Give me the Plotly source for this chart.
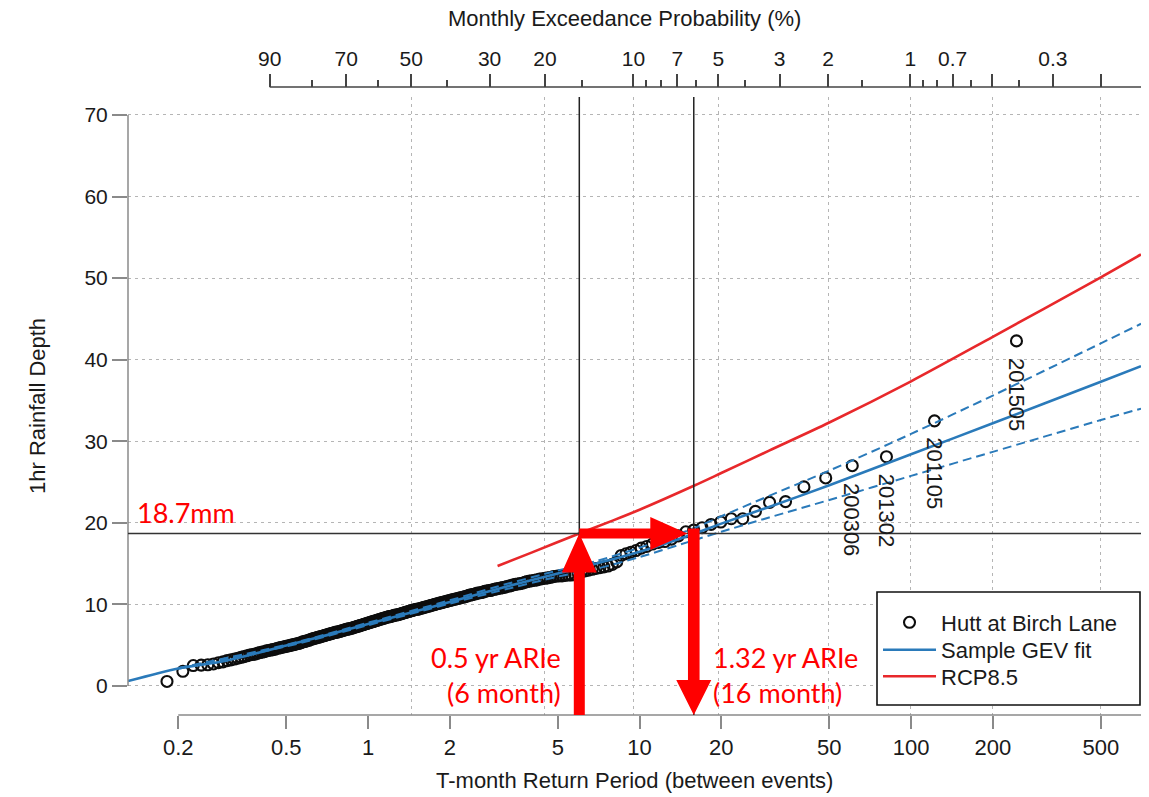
import numpy as np
import plotly.graph_objects as go

# ---------------- data ----------------
station_name = "Hutt at Birch Lane"
# ranked 1-hr monthly maxima (mm), largest first
depth_ranked = [
    42.3, 32.5, 28.1, 27.0, 25.5, 24.4, 22.6, 22.5, 21.4, 20.5,
    20.5, 20.1, 19.8, 19.4, 19.1, 18.9, 18.4, 18.0, 17.7, 17.6,
    17.4, 17.1, 16.9, 16.6, 16.4, 16.2, 16.0, 15.2, 14.9, 14.7,
    14.6, 14.5, 14.4, 14.3, 14.2, 14.1, 14.0, 13.9, 13.7,
    13.6, 13.6, 13.55, 13.5, 13.5,
    13.45, 13.4, 13.3, 13.25, 13.2,
    13.15, 13.1, 13.0, 12.95, 12.9,
    12.85, 12.8, 12.7, 12.6, 12.55,
    12.5, 12.45, 12.4, 12.3, 12.25,
    12.2, 12.1, 12.05, 12.0, 11.95,
    11.9, 11.85, 11.8, 11.7, 11.7,
    11.65, 11.6, 11.5, 11.45, 11.4,
    11.4, 11.3, 11.25, 11.2, 11.15,
    11.1, 11.0, 10.95, 10.9, 10.85,
    10.8, 10.75, 10.7, 10.65, 10.6,
    10.55, 10.5, 10.45, 10.4, 10.35,
    10.3, 10.25, 10.2, 10.15, 10.1,
    10.05, 10.0, 9.95, 9.9, 9.85,
    9.8, 9.75, 9.7, 9.65, 9.6,
    9.55, 9.5, 9.45, 9.4, 9.4,
    9.35, 9.3, 9.25, 9.2, 9.15,
    9.1, 9.05, 9.0, 8.95, 8.9,
    8.85, 8.8, 8.75, 8.7, 8.7,
    8.65, 8.6, 8.55, 8.5, 8.5,
    8.45, 8.4, 8.35, 8.3, 8.25,
    8.2, 8.15, 8.1, 8.05, 8.0,
    7.95, 7.9, 7.85, 7.8, 7.75,
    7.7, 7.65, 7.6, 7.55, 7.5,
    7.45, 7.4, 7.35, 7.3, 7.25,
    7.2, 7.15, 7.1, 7.05, 7.0,
    7.0, 6.95, 6.9, 6.85, 6.8,
    6.75, 6.7, 6.65, 6.6, 6.6,
    6.55, 6.5, 6.45, 6.4, 6.35,
    6.3, 6.25, 6.2, 6.15, 6.1,
    6.05, 6.0, 5.95, 5.9, 5.85,
    5.8, 5.75, 5.7, 5.6, 5.55,
    5.5, 5.45, 5.4, 5.3, 5.25,
    5.2, 5.15, 5.1, 5.05, 5.0,
    4.95, 4.9, 4.85, 4.8, 4.75,
    4.7, 4.65, 4.6, 4.5, 4.45,
    4.4, 4.35, 4.3, 4.2, 4.15,
    4.1, 4.0, 3.9, 3.85, 3.8,
    3.7, 3.6, 3.5, 3.4, 3.3,
    3.2, 3.1, 2.95, 2.85, 2.7,
    2.6, 2.55, 2.5, 1.8, 0.55,
]
event_labels = ["201505", "201105", "201302", "200306"]  # labels of the 4 largest

gev_T = [0.1306, 0.2, 0.3, 0.5, 0.7, 1, 1.5, 2, 3, 5, 7, 10, 16, 20, 30, 50, 100, 200, 500, 703]
gev_depth = [0.6, 2.15, 3.1, 4.95, 6.2, 7.6, 9.15, 10.3, 11.9, 13.8, 15.05, 16.45, 18.7, 19.9,
             21.95, 24.6, 28.4, 32.2, 37.3, 39.2]
ci_T = [0.2, 0.5, 1, 2, 3, 5, 7, 10, 16, 20, 30, 50, 100, 200, 500, 703]
ci_upper = [2.2, 5.05, 7.75, 10.5, 12.2, 14.15, 15.35, 16.95, 19.4, 20.8, 23.3, 26.4, 30.9, 35.6, 42.0, 44.4]
ci_lower = [2.1, 4.85, 7.45, 10.1, 11.6, 13.4, 14.4, 15.8, 17.9, 18.9, 20.65, 22.8, 25.75, 28.7, 32.6, 34.0]
rcp_T = [3, 4, 6, 8, 10, 16, 20, 30, 50, 100, 200, 500, 703]
rcp_depth = [14.7, 16.35, 18.7, 20.3, 21.6, 24.6, 26.1, 28.85, 32.3, 37.35, 42.8, 50.1, 52.9]

threshold_mm = 18.7
ari_low_T = 6.0      # months (0.5 yr)
ari_high_T = 15.84   # months (1.32 yr)

bottom_ticks = [0.2, 0.5, 1, 2, 5, 10, 20, 50, 100, 200, 500]
y_ticks = [0, 10, 20, 30, 40, 50, 60, 70]
top_major_p = [90, 70, 50, 30, 20, 10, 7, 5, 3, 2, 1, 0.7, 0.5, 0.3, 0.2]
top_major_text = ["90", "70", "50", "30", "20", "10", "7", "5", "3", "2", "1", "0.7", "", "0.3", ""]
top_minor_p = [80, 60, 40, 15, 9, 8, 6, 4, 1.5, 0.9, 0.8, 0.6, 0.4]
grid_p = [50, 20, 10, 5, 2, 1, 0.5, 0.2]

# ---------------- transforms ----------------
def p_to_T(p_percent):
    p = np.asarray(p_percent, dtype=float) / 100.0
    return -1.0 / np.log(1.0 - p)

n_obs = len(depth_ranked)
ranks = np.arange(1, n_obs + 1)
obs_T = -1.0 / np.log(1.0 - ranks / (n_obs + 1.0))

# ---------------- geometry / style ----------------
W, H = 1149, 797
ML, MR, MT, MB = 128, 8, 87, 82
plot_w = W - ML - MR
paper_h = H - MT - MB
ydom_top = (paper_h - 10) / paper_h
plot_h = ydom_top * paper_h
xr = [np.log10(0.1306), np.log10(703.0)]
yr = [-3.56, 72.2]
ppd = plot_w / (xr[1] - xr[0])
ppu = plot_h / (yr[1] - yr[0])

BLUE = "#2a7aba"
RED = "#e8282b"
ARROW = "#ff0000"
GRID = "#b5b5b5"
AXC = "#8a8a8a"
RFONT = "Liberation Sans, Arial, sans-serif"
CFONT = "Lato, Carlito, Open Sans, sans-serif"

fig = go.Figure()

fig.add_trace(go.Scatter(
    x=obs_T, y=depth_ranked, mode="markers", name=station_name, legend="legend",
    marker=dict(symbol="circle-open", size=11, color="#0d0d0d", line=dict(width=2.1)),
    hoverinfo="skip"))
fig.add_trace(go.Scatter(
    x=gev_T, y=gev_depth, mode="lines", name="Sample GEV fit", legend="legend2",
    line=dict(color=BLUE, width=2.6, shape="spline", smoothing=0.8), hoverinfo="skip"))
fig.add_trace(go.Scatter(
    x=ci_T, y=ci_upper, mode="lines", showlegend=False,
    line=dict(color=BLUE, width=2, dash="9px,5px", shape="spline", smoothing=0.8), hoverinfo="skip"))
fig.add_trace(go.Scatter(
    x=ci_T, y=ci_lower, mode="lines", showlegend=False,
    line=dict(color=BLUE, width=2, dash="9px,5px", shape="spline", smoothing=0.8), hoverinfo="skip"))
fig.add_trace(go.Scatter(
    x=rcp_T, y=rcp_depth, mode="lines", name="RCP8.5", legend="legend3",
    line=dict(color=RED, width=2.6, shape="spline", smoothing=0.8), hoverinfo="skip"))

# helper traces so the overlaid probability axes are created
for ax in ["x2", "x3", "x4"]:
    fig.add_trace(go.Scatter(x=[1, 1], y=[None, None], xaxis=ax, yaxis="y", mode="lines",
                             showlegend=False, hoverinfo="skip"))

legend_left = (877 - ML) / plot_w + 0.001
def legend_at(row_px):
    return dict(x=legend_left, xanchor="left", y=(MT + paper_h - row_px) / paper_h, yanchor="middle",
                bgcolor="rgba(0,0,0,0)", borderwidth=0,
                font=dict(size=22, family=RFONT, color="#1a1a1a"), itemwidth=53)

log_common = dict(type="log", range=xr, showline=False, zeroline=False, fixedrange=True)
fig.update_layout(
    width=W, height=H,
    margin=dict(l=ML, r=MR, t=MT, b=MB, pad=0),
    paper_bgcolor="white", plot_bgcolor="white",
    font=dict(family=RFONT, color="#1a1a1a"),
    xaxis=dict(**log_common, tickmode="array", tickvals=bottom_ticks,
               ticktext=[f"{v:g}" for v in bottom_ticks],
               ticks="outside", ticklen=13, tickwidth=1.5, tickcolor=AXC,
               showgrid=False, tickfont=dict(size=22, family=RFONT, color="#1a1a1a"), anchor="y"),
    xaxis2=dict(**log_common, overlaying="x", side="top", anchor="free", position=1,
                tickmode="array", tickvals=p_to_T(top_major_p), ticktext=top_major_text,
                ticks="outside", ticklen=13, tickwidth=1.5, tickcolor="#444",
                showgrid=False, tickfont=dict(size=21, family=RFONT, color="#1a1a1a")),
    xaxis3=dict(**log_common, overlaying="x", side="top", anchor="free", position=1,
                tickmode="array", tickvals=p_to_T(top_minor_p), showticklabels=False,
                ticks="outside", ticklen=7, tickwidth=1.5, tickcolor="#444", showgrid=False),
    xaxis4=dict(**log_common, overlaying="x", anchor="y", tickmode="array",
                tickvals=p_to_T(grid_p), showticklabels=False, ticks="",
                showgrid=True, gridcolor=GRID, gridwidth=1.3, griddash="3px,4px"),
    yaxis=dict(range=yr, domain=[0, ydom_top], tickmode="array", tickvals=y_ticks,
               ticks="outside", ticklen=15, tickwidth=1.5, tickcolor=AXC,
               showgrid=True, gridcolor=GRID, gridwidth=1.3, griddash="3px,4px",
               zeroline=False, showline=False, fixedrange=True,
               tickfont=dict(size=21, family=RFONT, color="#1a1a1a")),
    showlegend=True,
    legend=legend_at(622.5),
    legend2=legend_at(650),
    legend3=legend_at(676.5),
)

shapes = []
# axis lines (R style)
shapes.append(dict(type="line", xref="paper", yref="y", x0=0, x1=0, y0=y_ticks[0], y1=y_ticks[-1],
                   line=dict(color=AXC, width=1.5)))
shapes.append(dict(type="line", xref="x", yref="paper", x0=bottom_ticks[0], x1=10 ** xr[1], y0=0, y1=0,
                   line=dict(color=AXC, width=1.5)))
shapes.append(dict(type="line", xref="x", yref="paper", x0=float(p_to_T(top_major_p[0])), x1=10 ** xr[1],
                   y0=1, y1=1, line=dict(color="#444", width=1.5)))
# reference lines
for t in [ari_low_T, ari_high_T]:
    shapes.append(dict(type="line", xref="x", yref="paper", x0=t, x1=t, y0=0, y1=ydom_top,
                       line=dict(color="#222", width=1.5), layer="above"))
shapes.append(dict(type="line", xref="paper", yref="y", x0=0, x1=1, y0=threshold_mm, y1=threshold_mm,
                   line=dict(color="#333", width=1.5), layer="above"))
# legend box
shapes.append(dict(type="rect", xref="paper", yref="paper",
                   x0=(877 - ML) / plot_w, x1=(1140 - ML) / plot_w,
                   y0=10 / paper_h, y1=123 / paper_h,
                   fillcolor="white", line=dict(color="#111", width=1.6), layer="above"))

# thick red arrows (pixel geometry anchored at data points)
drop = (threshold_mm - yr[0]) * ppu
span = ppd * np.log10(ari_high_T / ari_low_T)
def arrow_shape(xa, path):
    return dict(type="path", xref="x", yref="y", xsizemode="pixel", ysizemode="pixel",
                xanchor=xa, yanchor=threshold_mm, path=path,
                fillcolor=ARROW, line=dict(width=0), layer="above")
up = (f"M -5.5,{-drop:.1f} L -5.5,-39 L -17.5,-39 L 0,0 L 17.5,-39 L 5.5,-39 L 5.5,{-drop:.1f} Z")
tip = span - 6.5
hb = tip - 37
right = (f"M 0,5 L {hb:.1f},5 L {hb:.1f},16.5 L {tip:.1f},0 L {hb:.1f},-16.5 L {hb:.1f},-5 L 0,-5 Z")
down = (f"M -5.8,5 L -5.8,{-(drop-35):.1f} L -17.5,{-(drop-35):.1f} L 0,{-drop:.1f} "
        f"L 17.5,{-(drop-35):.1f} L 5.8,{-(drop-35):.1f} L 5.8,5 Z")
shapes.append(arrow_shape(ari_low_T, up))
shapes.append(arrow_shape(ari_low_T, right))
shapes.append(arrow_shape(ari_high_T, down))
fig.update_layout(shapes=shapes)

ann = []
for i, lab in enumerate(event_labels):
    ann.append(dict(x=float(np.log10(obs_T[i])), y=depth_ranked[i], xref="x", yref="y",
                    text=lab, textangle=90, showarrow=False, xanchor="center", yanchor="top",
                    yshift=-15, font=dict(size=22, family=RFONT, color="#1a1a1a")))
ann.append(dict(xref="paper", x=0, xshift=7, xanchor="left", yref="y", y=threshold_mm,
                yanchor="middle", yshift=21, text="18.7mm", showarrow=False,
                font=dict(size=27, family=CFONT, color=ARROW)))
ann.append(dict(xref="x", x=float(np.log10(ari_low_T)), xshift=-16, xanchor="right",
                yref="y", y=0, yshift=11, yanchor="middle", align="right",
                text="0.5 yr ARIe<br>(6 month)", showarrow=False,
                font=dict(size=27, family=CFONT, color=ARROW)))
ann.append(dict(xref="x", x=float(np.log10(ari_high_T)), xshift=17, xanchor="left",
                yref="y", y=0, yshift=11, yanchor="middle", align="left",
                text="1.32 yr ARIe<br>(16 month)", showarrow=False,
                font=dict(size=27, family=CFONT, color=ARROW)))
# axis titles
ann.append(dict(xref="paper", yref="paper", x=0.5, y=0, yshift=-65, xanchor="center", yanchor="middle",
                text="T-month Return Period (between events)", showarrow=False,
                font=dict(size=22, family=RFONT, color="#1a1a1a")))
ann.append(dict(xref="paper", yref="paper", x=0.49, y=1, yshift=69, xanchor="center", yanchor="middle",
                text="Monthly Exceedance Probability (%)", showarrow=False,
                font=dict(size=22, family=RFONT, color="#1a1a1a")))
ann.append(dict(xref="paper", yref="paper", x=0, xshift=-91, y=ydom_top / 2, textangle=-90,
                xanchor="center", yanchor="middle", text="1hr Rainfall Depth", showarrow=False,
                font=dict(size=22, family=RFONT, color="#1a1a1a")))
fig.update_layout(annotations=ann)

fig.write_html("out.html", config={"displayModeBar": False},
               post_script="document.body.style.margin='0px';document.body.style.overflow='hidden';")
